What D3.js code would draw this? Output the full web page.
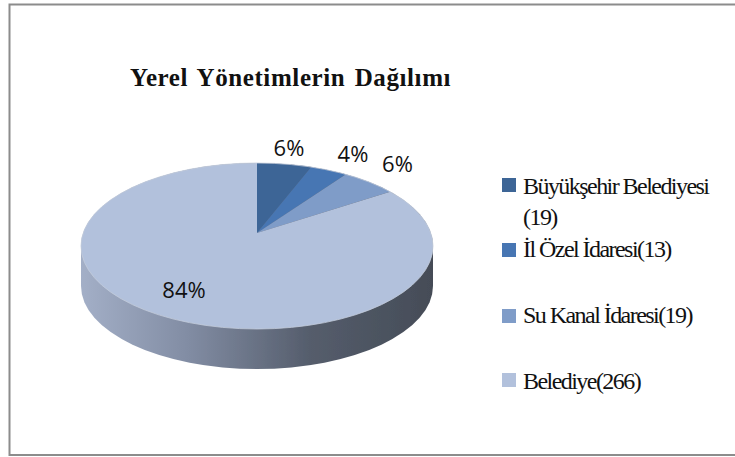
<!DOCTYPE html>
<html>
<head>
<meta charset="utf-8">
<script src="https://cdn.jsdelivr.net/npm/d3@7"></script>
<style>
html, body { margin: 0; background: #fff; }
svg { display: block; }
.legend text { font-family: "Liberation Serif", serif; font-size: 24px; letter-spacing: -1.55px; fill: #111; }
.pct { font-family: "Open Sans", sans-serif; font-size: 22px; fill: #111; }
</style>
</head>
<body>
<script>
var categories = ["Büyükşehir Belediyesi (19)", "İl Özel İdaresi(13)", "Su Kanal İdaresi(19)", "Belediye(266)"];
var values = [19, 13, 19, 266];
var percentLabels = ["6%", "4%", "6%", "84%"];
var colors = ["#3d6596", "#4776b3", "#7f9cc8", "#b2c1dc"];

var width = 735, height = 457;
var cx = 257, cy = 246, rx = 176, ry = 83, depth = 40;
// apex sits above the ellipse centre because of the 3d tilt
var apex = [257, 233];
var tilt = 0.826;

var svg = d3.select("body").append("svg")
	.attr("width", width)
	.attr("height", height);

// gradient for the side wall
var defs = svg.append("defs");
var grad = defs.append("linearGradient")
	.attr("id", "side")
	.attr("x1", 0).attr("x2", 1).attr("y1", 0).attr("y2", 0);
grad.append("stop").attr("offset", "0%").attr("stop-color", "#a3afc7");
grad.append("stop").attr("offset", "30%").attr("stop-color", "#828da4");
grad.append("stop").attr("offset", "65%").attr("stop-color", "#555d6c");
grad.append("stop").attr("offset", "100%").attr("stop-color", "#454c57");

defs.append("filter").attr("id", "soft")
	.append("feGaussianBlur").attr("stdDeviation", 0.4);

// frame, runs off the right edge of the picture
svg.append("path")
	.attr("d", "M735,4.5H9.5V455H735")
	.attr("fill", "none")
	.attr("stroke", "#8c8c8c")
	.attr("stroke-width", 2);

svg.append("text")
	.attr("x", 130).attr("y", 86)
	.style("font-family", "'Liberation Serif', serif")
	.style("font-weight", "bold")
	.style("font-size", "25px")
	.style("letter-spacing", "0.6px")
	.style("word-spacing", "2.5px")
	.style("fill", "#111")
	.text("Yerel Yönetimlerin Dağılımı");

var color = d3.scaleOrdinal().domain(categories).range(colors);
var pie = d3.pie().sort(null).value(function(d, i) { return values[i]; });
var slices = pie(categories);

// pie angle -> point on the tilted ellipse
function rim(a) {
	var t = 2 * Math.atan2(tilt * Math.sin(a / 2), Math.cos(a / 2));
	return [cx + rx * Math.sin(t), cy - ry * Math.cos(t)];
}

var chart = svg.append("g").attr("filter", "url(#soft)");

// side wall
chart.append("path")
	.attr("d", "M" + (cx - rx) + "," + cy +
		"A" + rx + "," + ry + " 0 0 1 " + (cx + rx) + "," + cy +
		"V" + (cy + depth) +
		"A" + rx + "," + ry + " 0 0 1 " + (cx - rx) + "," + (cy + depth) + "Z")
	.attr("fill", "url(#side)");

chart.selectAll(".slice")
	.data(slices)
	.enter().append("path")
		.attr("class", "slice")
		.attr("d", function(d) {
			var a = rim(d.startAngle), b = rim(d.endAngle);
			var large = d.endAngle - d.startAngle > Math.PI ? 1 : 0;
			return "M" + apex + "L" + a + "A" + rx + "," + ry + " 0 " + large + " 1 " + b + "Z";
		})
		.attr("fill", function(d) { return color(d.data); });

// rim highlight
chart.append("ellipse")
	.attr("cx", cx).attr("cy", cy)
	.attr("rx", rx).attr("ry", ry)
	.attr("fill", "none")
	.attr("stroke", "#c3cbdb")
	.attr("stroke-width", 0.8);

// percent labels
var pctX = [289, 353, 397.5, 184];
var pctY = [156, 162, 172, 298];
svg.selectAll(".pct")
	.data(percentLabels)
	.enter().append("text")
		.attr("class", "pct")
		.attr("x", function(d, i) { return pctX[i]; })
		.attr("y", function(d, i) { return pctY[i]; })
		.attr("text-anchor", "middle")
		.text(function(d) { return d; });

// legend
var legendY = [185, 250, 316, 380];
var legendBase = [194, 257, 323, 389];
var legend = svg.append("g").attr("class", "legend")
	.selectAll("g")
	.data(categories)
	.enter().append("g");

legend.append("rect")
	.attr("x", 502)
	.attr("y", function(d, i) { return legendY[i] - 7; })
	.attr("width", 14).attr("height", 14)
	.attr("fill", function(d) { return color(d); });

legend.append("text")
	.attr("x", 523)
	.attr("y", function(d, i) { return legendBase[i]; })
	.each(function(d) {
		var el = d3.select(this);
		// only the first entry wraps, before the bracket with a space
		var parts = d.split(" (");
		el.append("tspan").text(parts[0]);
		if (parts[1]) {
			el.append("tspan")
				.attr("x", 523)
				.attr("dy", 31)
				.text("(" + parts[1]);
		}
	});
</script>
</body>
</html>
